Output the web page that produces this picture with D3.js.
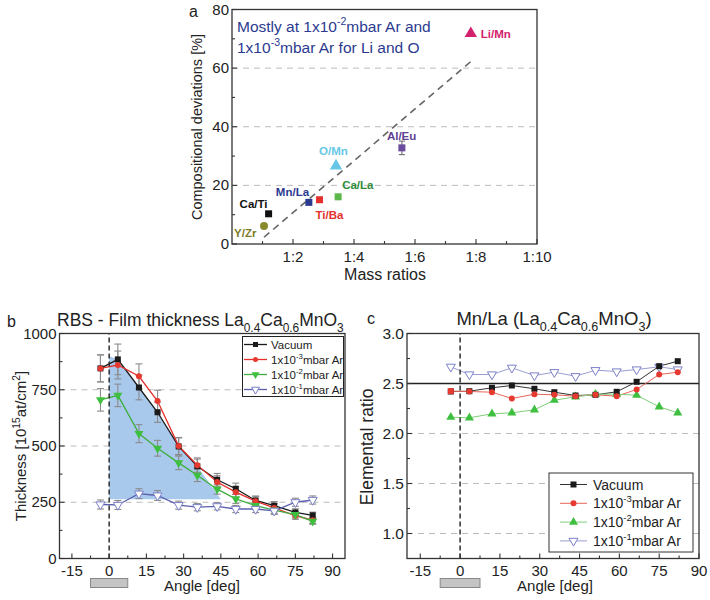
<!DOCTYPE html>
<html><head><meta charset="utf-8">
<script src="https://cdn.jsdelivr.net/npm/d3@7"></script>
<style>body{margin:0;background:#fff}svg{font-family:"Liberation Sans",Arial,sans-serif}</style>
</head><body>
<svg id="c" width="710" height="600"></svg>
<script>
// ---------- DATA ----------
// Panel a
const pairLabels = ["Y/Zr","Ca/Ti","Mn/La","Ti/Ba","Ca/La","O/Mn","Al/Eu","Li/Mn"];
const massRatio  = [1.05, 1.2, 2.52, 2.87, 3.48, 3.41, 5.57, 7.83];
const deviation  = [6.1, 10.3, 14.2, 15.1, 16.1, 26.6, 32.8, 71.8];
const deviationErr = [0, 0, 0, 0, 0, 0, 2.3, 0];
const trendLine = [[1.05, 2.3], [7.88, 62.7]];
const massTicks = [2, 4, 6, 8, 10];
const massTickLabels = ["1:2","1:4","1:6","1:8","1:10"];
const devTicks = [0, 20, 40, 60, 80];

// Panels b & c
const angles = [-3.5, 3.5, 12, 19.5, 28, 35.5, 43.5, 51, 59, 66.5, 75, 82];
const seriesNames = ["Vacuum", "1x10-3mbar Ar", "1x10-2mbar Ar", "1x10-1mbar Ar"];
const thickVac  = [845, 885, 760, 650, 498, 410, 350, 310, 258, 235, 205, 192];
const thickE3   = [845, 860, 810, 700, 500, 415, 340, 295, 255, 225, 190, 170];
const thickE2   = [705, 725, 555, 490, 425, 370, 308, 265, 235, 215, 195, 165];
const thickE1   = [240, 238, 288, 280, 237, 228, 232, 220, 220, 212, 250, 260];
const errVac = [60, 68, 55, 45, 38, 32, 28, 25, 20, 18, 16, 14];
const errE3  = [60, 62, 55, 48, 38, 32, 28, 24, 20, 18, 16, 14];
const errE2  = [50, 50, 40, 35, 30, 28, 22, 20, 18, 16, 15, 13];
const errE1  = [20, 20, 22, 22, 18, 16, 16, 16, 16, 16, 18, 18];
const shadeArea = [[0,263],[0,900],[3.5,885],[12,760],[19.5,650],[28,498],[35.5,410],[45,263]];
const thickTicks = [0, 250, 500, 750, 1000];

const ratioVac = [2.42, 2.423, 2.457, 2.48, 2.447, 2.413, 2.38, 2.387, 2.417, 2.517, 2.673, 2.723];
const ratioE3  = [2.423, 2.42, 2.413, 2.35, 2.393, 2.387, 2.373, 2.387, 2.373, 2.44, 2.59, 2.613];
const ratioE2  = [2.163, 2.157, 2.197, 2.207, 2.237, 2.333, 2.367, 2.393, 2.393, 2.383, 2.267, 2.207];
const ratioE1  = [2.667, 2.59, 2.59, 2.657, 2.58, 2.613, 2.573, 2.633, 2.62, 2.64, 2.667, 2.64];
const ratioTicks = [1.0, 1.5, 2.0, 2.5, 3.0];
const angleTicks = [-15, 0, 15, 30, 45, 60, 75, 90];
const targetRatio = 2.5;
const substrate = [-7.5, 7.5];

// ---------- HELPERS ----------
const svg = d3.select("#c");
function rich(sel, parts, fs) {
  let cur = 0;
  parts.forEach(([t, m]) => {
    const off = m === 'sup' ? -fs*0.42 : m === 'sub' ? fs*0.32 : 0;
    sel.append('tspan').attr('dy', off - cur).attr('font-size', m === 'n' ? fs : fs*0.68).text(t);
    cur = off;
  });
}
function legParts(name) {
  if (name === "Vacuum") return [["Vacuum","n"]];
  const m = name.match(/1x10(-\d)(mbar Ar)/);
  return [["1x10","n"],[m[1],"sup"],[m[2],"n"]];
}
function frame(g, x0, x1, y0, y1) {
  g.append('rect').attr('x', x0).attr('y', y1).attr('width', x1-x0).attr('height', y0-y1)
    .attr('fill','none').attr('stroke','#333').attr('stroke-width',1.3);
}
function ticksX(g, x, vals, y0, len, labels, fs, labOff) {
  vals.forEach((v,i) => {
    g.append('line').attr('x1', x(v)).attr('x2', x(v)).attr('y1', y0).attr('y2', y0-len).attr('stroke','#333').attr('stroke-width',1.1);
    if (labels) g.append('text').attr('x', x(v)).attr('y', y0+labOff).attr('text-anchor','middle').attr('font-size',fs).attr('fill','#222').text(labels[i]);
  });
}
function ticksY(g, y, vals, x0, len, labels, fs) {
  vals.forEach((v,i) => {
    g.append('line').attr('x1', x0).attr('x2', x0+len).attr('y1', y(v)).attr('y2', y(v)).attr('stroke','#333').attr('stroke-width',1.1);
    if (labels) g.append('text').attr('x', x0-3).attr('y', y(v)+5).attr('text-anchor','end').attr('font-size',fs).attr('fill','#222').text(labels[i]);
  });
}
function marker(g, type, cx, cy, s, fill, stroke) {
  if (type === 'square') g.append('rect').attr('x',cx-s/2).attr('y',cy-s/2).attr('width',s).attr('height',s).attr('fill',fill).attr('stroke',stroke||'none');
  else if (type === 'circle') g.append('circle').attr('cx',cx).attr('cy',cy).attr('r',s/2).attr('fill',fill).attr('stroke',stroke||'none');
  else {
    const sym = d3.symbol().type(d3.symbolTriangle).size(s*s*0.55)();
    g.append('path').attr('d', sym).attr('transform', `translate(${cx},${cy})` + (type==='down' ? ' rotate(180)' : ''))
      .attr('fill',fill).attr('stroke',stroke||'none').attr('stroke-width',1);
  }
}

// ---------- PANEL A ----------
{
  const g = svg.append('g');
  const x = d3.scaleLinear().domain([0,10]).range([232,537]);
  const y = d3.scaleLinear().domain([0,80]).range([244,9.5]);
  [20,40,60].forEach(v => g.append('line').attr('x1',x(0)).attr('x2',x(10)).attr('y1',y(v)).attr('y2',y(v))
     .attr('stroke','#bbb').attr('stroke-dasharray','6,5').attr('stroke-width',1));
  g.append('line').attr('x1',x(trendLine[0][0])).attr('y1',y(trendLine[0][1])).attr('x2',x(trendLine[1][0])).attr('y2',y(trendLine[1][1]))
    .attr('stroke','#666').attr('stroke-width',1.6).attr('stroke-dasharray','7,5');
  const cols = {"Y/Zr":"#8a8a2c","Ca/Ti":"#111","Mn/La":"#2b3a8f","Ti/Ba":"#e3302c","Ca/La":"#5cb84a","O/Mn":"#66c8e6","Al/Eu":"#6a4c9c","Li/Mn":"#d4216d"};
  const labCols = {"Y/Zr":"#7c7c28","Ca/Ti":"#111","Mn/La":"#2b3a8f","Ti/Ba":"#e3302c","Ca/La":"#2e8b3a","O/Mn":"#66c8e6","Al/Eu":"#5e4294","Li/Mn":"#d4216d"};
  const shapes = {"Y/Zr":"circle","O/Mn":"up","Li/Mn":"up"};
  const labPos = {"Y/Zr":[-30,11,'start'],"Ca/Ti":[-29,-6,'start'],"Mn/La":[-33,-6,'start'],"Ti/Ba":[-4,19,'start'],
    "Ca/La":[4,-8,'start'],"O/Mn":[-17,-11,'start'],"Al/Eu":[-15,-8,'start'],"Li/Mn":[10,4,'start']};
  pairLabels.forEach((p,i) => {
    const cx = x(massRatio[i]), cy = y(deviation[i]);
    if (deviationErr[i] > 0) {
      g.append('line').attr('x1',cx).attr('x2',cx).attr('y1',y(deviation[i]-deviationErr[i])).attr('y2',y(deviation[i]+deviationErr[i])).attr('stroke','#777').attr('stroke-width',1.2);
      [-1,1].forEach(sg => g.append('line').attr('x1',cx-3).attr('x2',cx+3).attr('y1',y(deviation[i]+sg*deviationErr[i])).attr('y2',y(deviation[i]+sg*deviationErr[i])).attr('stroke','#777').attr('stroke-width',1.2));
    }
    const sh = shapes[p] || 'square';
    marker(g, sh, cx, cy, sh==='up' ? 11 : (sh==='circle'? 8 : 7), cols[p]);
    const lp = labPos[p];
    g.append('text').attr('x', cx+lp[0]).attr('y', cy+lp[1]).attr('font-size',11.5).attr('font-weight','bold').attr('fill',labCols[p]).text(p);
  });
  frame(g, x(0), x(10), y(0), y(80));
  ticksX(g, x, massTicks, y(0), 5, massTickLabels, 15, 18);
  ticksX(g, x, [1,3,5,7,9], y(0), 3, null);
  ticksY(g, y, devTicks, x(0), 5, devTicks.map(String), 15);
  ticksY(g, y, [10,30,50,70], x(0), 3, null);
  g.append('text').attr('x',385).attr('y',280).attr('text-anchor','middle').attr('font-size',16).attr('fill','#222').text('Mass ratios');
  g.append('text').attr('transform','translate(202,127) rotate(-90)').attr('text-anchor','middle').attr('font-size',14.5).attr('fill','#222').text('Compositional deviations [%]');
  g.append('text').attr('x',189).attr('y',17).attr('font-size',16).attr('fill','#222').text('a');
  const t1 = g.append('text').attr('x',237).attr('y',32).attr('font-size',15.5).attr('fill','#2b3a8f');
  rich(t1, [["Mostly at 1x10","n"],["-2","sup"],["mbar Ar and","n"]], 15.5);
  const t2 = g.append('text').attr('x',237).attr('y',53).attr('font-size',15.5).attr('fill','#2b3a8f');
  rich(t2, [["1x10","n"],["-3","sup"],["mbar Ar for Li and O","n"]], 15.5);
}

// ---------- PANEL B & C common ----------
const sCols = ["#1a1a1a", "#e3302c", "#3fae3f", "#5b5fae"];
const sMark = ["#1a1a1a", "#e63a30", "#3fbf3f", "#7b80c8"];

// ---------- PANEL B ----------
{
  const g = svg.append('g');
  const x = d3.scaleLinear().domain([-20,95]).range([59.5,345]);
  const y = d3.scaleLinear().domain([0,1000]).range([558.5,333.5]);
  [250,500,750].forEach(v => g.append('line').attr('x1',x(-20)).attr('x2',x(95)).attr('y1',y(v)).attr('y2',y(v))
     .attr('stroke','#bbb').attr('stroke-dasharray','6,5'));
  g.append('path').attr('d', d3.line().x(d=>x(d[0])).y(d=>y(d[1]))(shadeArea) + 'Z').attr('fill','#a9c9ec');
  const data = [thickVac, thickE3, thickE2, thickE1];
  const errs = [errVac, errE3, errE2, errE1];
  const shp = ['square','circle','down','down'];
  data.forEach((ser,k) => {
    ser.forEach((v,i) => {
      const cx = x(angles[i]);
      g.append('line').attr('x1',cx).attr('x2',cx).attr('y1',y(v-errs[k][i])).attr('y2',y(v+errs[k][i])).attr('stroke','#8a8a8a').attr('stroke-width',1.1);
      [-1,1].forEach(sg => g.append('line').attr('x1',cx-3.5).attr('x2',cx+3.5).attr('y1',y(v+sg*errs[k][i])).attr('y2',y(v+sg*errs[k][i])).attr('stroke','#8a8a8a').attr('stroke-width',1.1));
    });
  });
  data.forEach((ser,k) => {
    g.append('path').datum(ser).attr('d', d3.line().x((d,i)=>x(angles[i])).y(d=>y(d))).attr('fill','none').attr('stroke',sCols[k]).attr('stroke-width',1.3);
  });
  data.forEach((ser,k) => {
    ser.forEach((v,i) => {
      if (k===3) marker(g,'down',x(angles[i]),y(v),8,'#fff',sMark[k]);
      else marker(g,shp[k],x(angles[i]),y(v), k===2 ? 8 : 6, sMark[k]);
    });
  });
  g.append('line').attr('x1',x(0)).attr('x2',x(0)).attr('y1',y(0)).attr('y2',y(1000)).attr('stroke','#222').attr('stroke-width',1.4).attr('stroke-dasharray','5,3');
  // legend
  g.append('rect').attr('x',242.5).attr('y',336.5).attr('width',101).attr('height',60).attr('fill','#fff').attr('stroke','#222').attr('stroke-width',1);
  seriesNames.forEach((n,k) => {
    const ly = 344.5 + k*15;
    g.append('line').attr('x1',244).attr('x2',267).attr('y1',ly).attr('y2',ly).attr('stroke',sCols[k]).attr('stroke-width',1.3);
    if (k===3) marker(g,'down',255.5,ly,7,'#fff',sMark[k]); else marker(g,shp[k],255.5,ly,k===2?7:5,sMark[k]);
    const t = g.append('text').attr('x',271).attr('y',ly+4).attr('font-size',11.5).attr('fill','#222');
    rich(t, legParts(n), 11.5);
  });
  frame(g, x(-20), x(95), y(0), y(1000));
  ticksX(g, x, angleTicks, y(0), 5, angleTicks.map(String), 15, 17);
  ticksX(g, x, [-7.5,7.5,22.5,37.5,52.5,67.5,82.5], y(0), 3, null);
  ticksY(g, y, thickTicks, x(-20), 5, thickTicks.map(String), 15);
  ticksY(g, y, [125,375,625,875], x(-20), 3, null);
  g.append('rect').attr('x',x(substrate[0])).attr('y',578.5).attr('width',x(substrate[1])-x(substrate[0])).attr('height',9).attr('fill','#c4c4c4').attr('stroke','#888');
  g.append('text').attr('x',202).attr('y',591).attr('text-anchor','middle').attr('font-size',15).attr('fill','#222').text('Angle [deg]');
  const yl = g.append('text').attr('transform','translate(26,446) rotate(-90)').attr('text-anchor','middle').attr('font-size',15).attr('fill','#222');
  rich(yl, [["Thickness [10","n"],["15","sup"],["at/cm","n"],["2","sup"],["]","n"]], 15);
  const tt = g.append('text').attr('x',57).attr('y',326).attr('font-size',17.5).attr('fill','#222');
  rich(tt, [["RBS - Film thickness La","n"],["0.4","sub"],["Ca","n"],["0.6","sub"],["MnO","n"],["3","sub"]], 17.5);
  g.append('text').attr('x',7).attr('y',327).attr('font-size',16).attr('fill','#222').text('b');
}

// ---------- PANEL C ----------
{
  const g = svg.append('g');
  const x = d3.scaleLinear().domain([-20,90]).range([407,699]);
  const y = d3.scaleLinear().domain([0.75,3.0]).range([558.5,333.5]);
  [1.0,1.5,2.0].forEach(v => g.append('line').attr('x1',x(-20)).attr('x2',x(90)).attr('y1',y(v)).attr('y2',y(v))
     .attr('stroke','#bbb').attr('stroke-dasharray','6,5'));
  g.append('line').attr('x1',x(-20)).attr('x2',x(90)).attr('y1',y(targetRatio)).attr('y2',y(targetRatio)).attr('stroke','#222').attr('stroke-width',1.5);
  const data = [ratioVac, ratioE3, ratioE2, ratioE1];
  const lc = ["#333","#e8655a","#7fcf7a","#9a9ed2"];
  data.forEach((ser,k) => {
    g.append('path').datum(ser).attr('d', d3.line().x((d,i)=>x(angles[i])).y(d=>y(d))).attr('fill','none').attr('stroke',lc[k]).attr('stroke-width',1);
  });
  const shp = ['square','circle','up','down'];
  [3,2,0,1].forEach(k => {
    data[k].forEach((v,i) => {
      if (k===3) marker(g,'down',x(angles[i]),y(v),8,'#fff',sMark[k]);
      else if (k===1 && i===0) marker(g,'square',x(angles[i]),y(v),6,sMark[k]);
      else marker(g,shp[k],x(angles[i]),y(v), k===2 ? 8 : 6, sMark[k]);
    });
  });
  g.append('line').attr('x1',x(0)).attr('x2',x(0)).attr('y1',y(0.75)).attr('y2',y(3.0)).attr('stroke','#222').attr('stroke-width',1.4).attr('stroke-dasharray','5,3');
  g.append('rect').attr('x',549).attr('y',473).attr('width',144).attr('height',79).attr('fill','#fff').attr('stroke','#333').attr('stroke-width',1);
  seriesNames.forEach((n,k) => {
    const ly = 484.5 + k*18.8;
    g.append('line').attr('x1',560).attr('x2',587).attr('y1',ly).attr('y2',ly).attr('stroke',lc[k]).attr('stroke-width',1);
    if (k===3) marker(g,'down',573.5,ly,8,'#fff',sMark[k]); else marker(g,shp[k],573.5,ly,k===2?8:6,sMark[k]);
    const t = g.append('text').attr('x',593).attr('y',ly+5).attr('font-size',14).attr('fill','#222');
    rich(t, legParts(n), 14);
  });
  frame(g, x(-20), x(90), y(0.75), y(3.0));
  ticksX(g, x, angleTicks, y(0.75), 5, angleTicks.map(String), 15, 17);
  ticksX(g, x, [-7.5,7.5,22.5,37.5,52.5,67.5,82.5], y(0.75), 3, null);
  ticksY(g, y, ratioTicks, x(-20), 5, ratioTicks.map(d=>d.toFixed(1)), 15.5);
  ticksY(g, y, [1.25,1.75,2.25,2.75], x(-20), 3, null);
  g.append('rect').attr('x',x(substrate[0])).attr('y',578.5).attr('width',x(substrate[1])-x(substrate[0])).attr('height',9).attr('fill','#c4c4c4').attr('stroke','#888');
  g.append('text').attr('x',555).attr('y',591).attr('text-anchor','middle').attr('font-size',15).attr('fill','#222').text('Angle [deg]');
  g.append('text').attr('transform','translate(373,447) rotate(-90)').attr('text-anchor','middle').attr('font-size',17.5).attr('fill','#222').text('Elemental ratio');
  const tt = g.append('text').attr('x',554).attr('y',325).attr('text-anchor','middle').attr('font-size',18.5).attr('fill','#222');
  rich(tt, [["Mn/La (La","n"],["0.4","sub"],["Ca","n"],["0.6","sub"],["MnO","n"],["3","sub"],[")","n"]], 18.5);
  g.append('text').attr('x',367).attr('y',324).attr('font-size',16).attr('fill','#222').text('c');
}
</script>
</body></html>
